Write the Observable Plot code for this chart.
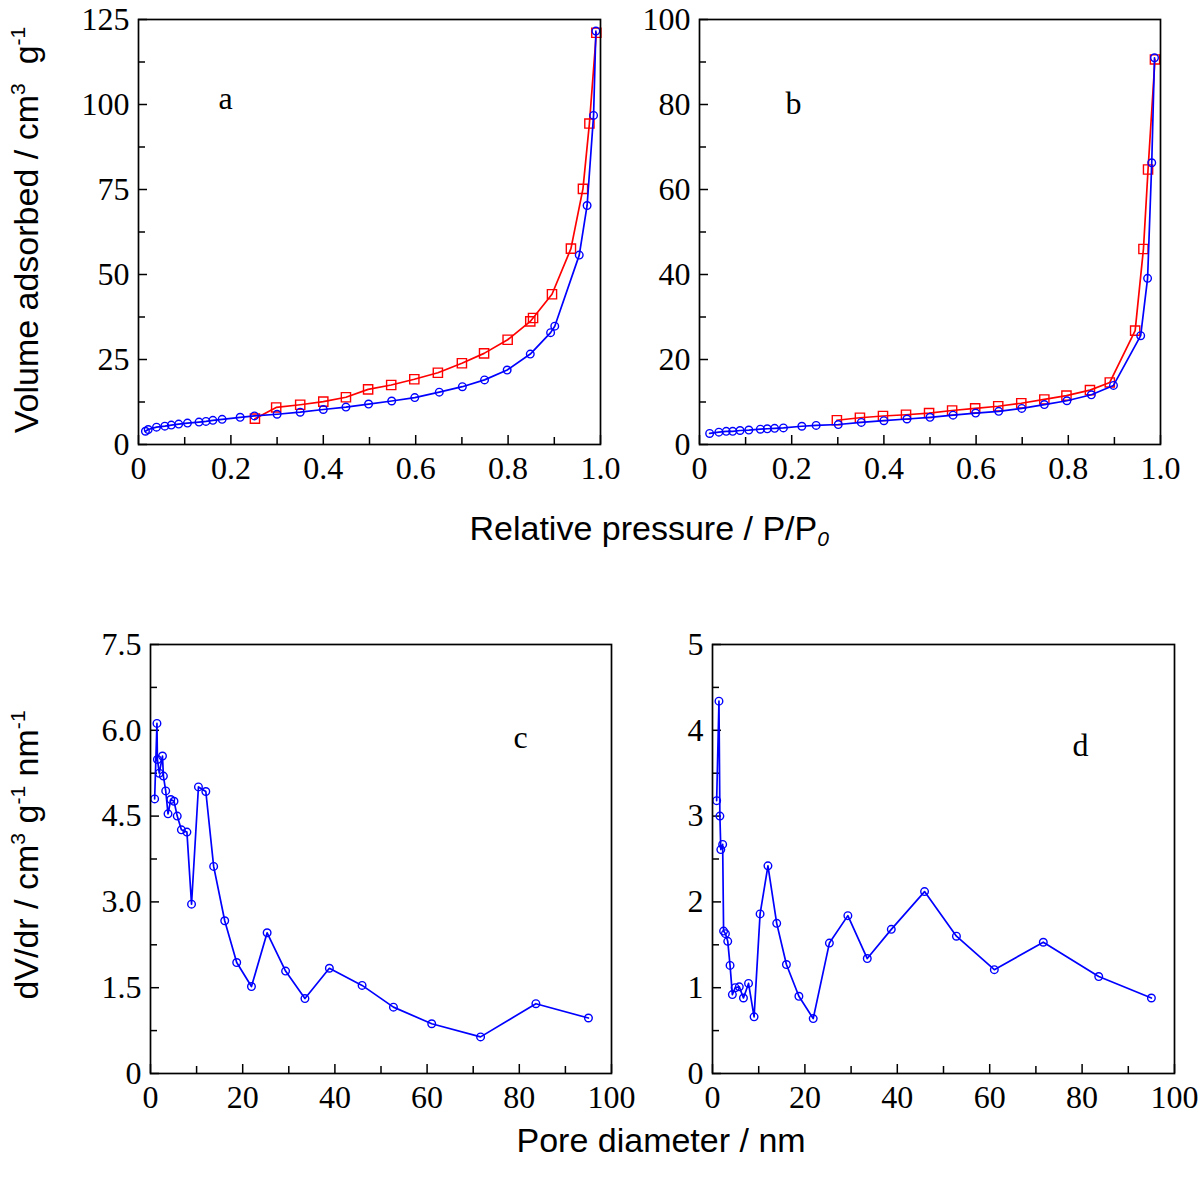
<!DOCTYPE html>
<html>
<head>
<meta charset="utf-8">
<script src="https://cdn.jsdelivr.net/npm/d3@7"></script>
<script src="https://cdn.jsdelivr.net/npm/@observablehq/plot@0.6"></script>
<style>
  html, body { margin: 0; padding: 0; background: #fff; }
  #wrap { position: relative; width: 1200px; height: 1182px; overflow: hidden; background: #fff; }
  #wrap svg { position: absolute; }
  .title { position: absolute; font-family: 'Liberation Sans', Arial, sans-serif; font-size: 34px; line-height: 34px; white-space: nowrap; color: #000; }
  .title sup { font-size: 0.62em; position: relative; top: -0.62em; vertical-align: baseline; line-height: 0; }
  .title sub { font-size: 0.62em; position: relative; top: 0.3em; vertical-align: baseline; line-height: 0; font-style: italic; }
  .rot { transform: translate(-50%, -50%) rotate(-90deg); }
</style>
</head>
<body>
<div id="wrap"></div>
<script>
// ---------- Panel a : N2 isotherm (adsorption = blue circles, desorption = red squares)
const pA_ads = [0.015,0.021,0.039,0.057,0.071,0.087,0.106,0.131,0.146,0.161,0.181,0.220,0.251,0.300,0.350,0.400,0.449,0.498,0.548,0.598,0.651,0.701,0.749,0.798,0.848,0.892,0.901,0.954,0.971,0.985,0.990];
const vA_ads = [3.9,4.4,5.1,5.4,5.7,6.0,6.3,6.6,6.8,7.1,7.4,8.0,8.4,8.9,9.5,10.3,11.0,11.9,12.8,13.8,15.4,17.0,19.0,21.9,26.6,32.9,34.8,55.7,70.3,96.8,121.6];
const pA_des = [0.252,0.298,0.350,0.400,0.449,0.497,0.547,0.597,0.648,0.700,0.748,0.799,0.848,0.854,0.895,0.936,0.962,0.976,0.991];
const vA_des = [7.6,10.9,11.7,12.6,13.9,16.2,17.5,19.2,21.1,23.9,26.8,30.8,36.2,37.2,44.2,57.6,75.2,94.4,121.1];

// ---------- Panel b
const pB_ads = [0.022,0.042,0.058,0.072,0.088,0.107,0.132,0.147,0.163,0.182,0.222,0.253,0.301,0.351,0.400,0.450,0.500,0.550,0.599,0.649,0.699,0.748,0.797,0.850,0.898,0.957,0.972,0.981,0.987];
const vB_ads = [2.6,2.9,3.1,3.1,3.3,3.4,3.6,3.7,3.8,3.9,4.3,4.5,4.7,5.2,5.6,6.0,6.4,6.9,7.4,7.8,8.5,9.4,10.3,11.7,13.9,25.6,39.1,66.3,91.0];
const pB_des = [0.298,0.348,0.398,0.448,0.498,0.548,0.598,0.648,0.698,0.748,0.796,0.847,0.890,0.945,0.963,0.973,0.988];
const vB_des = [5.7,6.3,6.7,7.0,7.4,8.0,8.5,9.0,9.7,10.6,11.5,12.8,14.6,26.8,46.0,64.7,90.6];

// ---------- Panel c : pore size distribution
const dC = [0.9,1.4,1.5,1.9,2.6,2.8,3.3,3.8,4.4,5.1,5.8,6.7,7.9,8.9,10.4,12.0,13.7,16.1,18.7,21.9,25.3,29.3,33.5,38.8,45.9,52.7,61.0,71.6,83.6,95.0];
const vC = [4.80,6.12,5.49,5.25,5.55,5.20,4.94,4.54,4.79,4.76,4.50,4.26,4.22,2.96,5.01,4.93,3.62,2.67,1.94,1.52,2.46,1.79,1.31,1.84,1.54,1.16,0.87,0.64,1.22,0.97];

// ---------- Panel d
const dD = [0.9,1.4,1.6,1.8,2.2,2.4,2.8,3.3,3.8,4.3,4.9,5.8,6.7,7.8,9.0,10.3,12.0,13.9,16.0,18.7,21.8,25.3,29.3,33.5,38.7,45.9,52.8,61.0,71.6,83.6,95.0];
const vD = [3.18,4.34,3.00,2.61,2.67,1.66,1.63,1.54,1.26,0.92,1.00,1.01,0.88,1.05,0.66,1.86,2.42,1.75,1.27,0.90,0.64,1.52,1.84,1.34,1.68,2.12,1.60,1.21,1.53,1.13,0.88];

// ---------- Tick values
const xTicksP = [0,0.2,0.4,0.6,0.8,1.0];
const xMinorP = [0.1,0.3,0.5,0.7,0.9];
const yTicksA = [0,25,50,75,100,125];
const yMinorA = [12.5,37.5,62.5,87.5,112.5];
const yTicksB = [0,20,40,60,80,100];
const yMinorB = [10,30,50,70,90];
const xTicksD = [0,20,40,60,80,100];
const xMinorD = [10,30,50,70,90];
const yTicksC = [0,1.5,3.0,4.5,6.0,7.5];
const yMinorC = [0.75,2.25,3.75,5.25,6.75];
const yTicksDd = [0,1,2,3,4,5];
const yMinorDd = [0.5,1.5,2.5,3.5,4.5];

const BLUE = "#0000ff", RED = "#ff0000";
const fmt1 = d => d === 0 ? "0" : d.toFixed(1);
const fmt0 = d => String(d);

const zipXY = (xs, ys) => xs.map((x, i) => ({x, y: ys[i]}));

function panel(o) {
  const ML = 80, MT = 24, MR = 40, MB = 50;
  const seriesMarks = [];
  for (const s of o.series) {
    const data = zipXY(s.x, s.y);
    seriesMarks.push(Plot.line(data, {x: "x", y: "y", stroke: s.color, strokeWidth: 1.7}));
    seriesMarks.push(Plot.dot(data, {x: "x", y: "y", stroke: s.color, fill: "none", strokeWidth: 1.4,
      symbol: s.symbol, r: s.symbol === "square" ? 5.2 : 3.8}));
  }
  const svg = Plot.plot({
    width: ML + o.fw + MR, height: MT + o.fh + MB,
    marginLeft: ML, marginTop: MT, marginRight: MR, marginBottom: MB,
    x: {domain: o.xDomain}, y: {domain: o.yDomain},
    style: {fontFamily: "'Liberation Serif','Times New Roman',serif", overflow: "visible", background: "none", color: "#000"},
    marks: [
      Plot.ruleX(o.xMinor, {x: d => d, insetTop: o.fh - 7, stroke: "black", strokeWidth: 1.5}),
      Plot.ruleX(o.xMajor, {x: d => d, insetTop: o.fh - 9, stroke: "black", strokeWidth: 1.5}),
      Plot.ruleY(o.yMinor, {y: d => d, insetRight: o.fw - 7, stroke: "black", strokeWidth: 1.5}),
      Plot.ruleY(o.yMajor, {y: d => d, insetRight: o.fw - 9, stroke: "black", strokeWidth: 1.5}),
      Plot.axisX(o.xMajor, {tickSize: 0, tickPadding: 12, tickFormat: o.xFmt, fontSize: 32, label: null}),
      Plot.axisY(o.yMajor, {tickSize: 0, tickPadding: 9, tickFormat: o.yFmt, fontSize: 32, label: null}),
      ...seriesMarks,
      Plot.text([o.letter], {frameAnchor: "top-left", textAnchor: "middle", lineAnchor: "middle",
        dx: o.ldx, dy: o.ldy, fontSize: 32, fill: "black"}),
      Plot.frame({stroke: "black", strokeWidth: 1.7})
    ]
  });
  svg.style.left = (o.x0 - ML) + "px";
  svg.style.top = (o.y0 - MT) + "px";
  document.getElementById("wrap").appendChild(svg);
}

panel({x0: 138, y0: 19, fw: 462, fh: 425, xDomain: [0, 1], yDomain: [0, 125],
  xMajor: xTicksP, xMinor: xMinorP, yMajor: yTicksA, yMinor: yMinorA, xFmt: fmt1, yFmt: fmt0,
  series: [{x: pA_des, y: vA_des, color: RED, symbol: "square"}, {x: pA_ads, y: vA_ads, color: BLUE, symbol: "circle"}],
  letter: "a", ldx: 87, ldy: 79});

panel({x0: 699, y0: 19, fw: 461, fh: 425, xDomain: [0, 1], yDomain: [0, 100],
  xMajor: xTicksP, xMinor: xMinorP, yMajor: yTicksB, yMinor: yMinorB, xFmt: fmt1, yFmt: fmt0,
  series: [{x: pB_des, y: vB_des, color: RED, symbol: "square"}, {x: pB_ads, y: vB_ads, color: BLUE, symbol: "circle"}],
  letter: "b", ldx: 94, ldy: 84});

panel({x0: 150, y0: 644, fw: 461, fh: 429, xDomain: [0, 100], yDomain: [0, 7.5],
  xMajor: xTicksD, xMinor: xMinorD, yMajor: yTicksC, yMinor: yMinorC, xFmt: fmt0, yFmt: fmt1,
  series: [{x: dC, y: vC, color: BLUE, symbol: "circle"}],
  letter: "c", ldx: 370, ldy: 93});

panel({x0: 712, y0: 644, fw: 462, fh: 429, xDomain: [0, 100], yDomain: [0, 5],
  xMajor: xTicksD, xMinor: xMinorD, yMajor: yTicksDd, yMinor: yMinorDd, xFmt: fmt0, yFmt: fmt0,
  series: [{x: dD, y: vD, color: BLUE, symbol: "circle"}],
  letter: "d", ldx: 368, ldy: 101});

// ---------- Axis titles
const wrap = document.getElementById("wrap");
function title(html, cx, cy, rotated) {
  const el = document.createElement("div");
  el.className = "title" + (rotated ? " rot" : "");
  el.innerHTML = html;
  wrap.appendChild(el);
  if (rotated) {
    el.style.left = cx + "px";
    el.style.top = cy + "px";
  } else {
    el.style.left = (cx - el.offsetWidth / 2) + "px";
    el.style.top = (cy - el.offsetHeight / 2) + "px";
  }
}
title("Volume adsorbed / cm<sup>3</sup>&nbsp; g<sup>-1</sup>", 26, 230, true);
title("dV/dr / cm<sup>3</sup> g<sup>-1</sup> nm<sup>-1</sup>", 26, 855, true);
title("Relative pressure / P/P<sub>0</sub>", 649, 528, false);
title("Pore diameter / nm", 661, 1140, false);
</script>
</body>
</html>
